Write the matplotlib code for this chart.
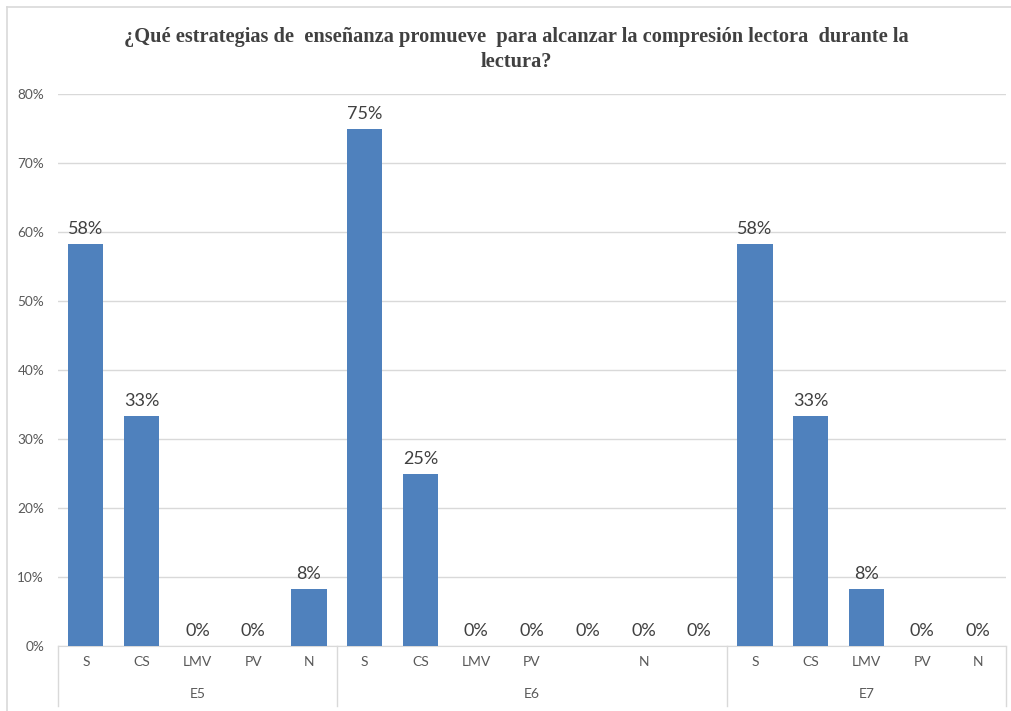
import matplotlib
matplotlib.use("Agg")
import matplotlib.pyplot as plt
from matplotlib.lines import Line2D
from matplotlib.transforms import blended_transform_factory

# data
groups = ["E5", "E6", "E7"]
cats_e5 = ["S", "CS", "LMV", "PV", "N"]
cats_e6 = ["S", "CS", "LMV", "PV", "", "N", ""]
cats_e7 = ["S", "CS", "LMV", "PV", "N"]
vals_e5 = [58.33, 33.33, 0, 0, 8.33]
vals_e6 = [75, 25, 0, 0, 0, 0, 0]
vals_e7 = [58.33, 33.33, 8.33, 0, 0]
yticks = [0, 10, 20, 30, 40, 50, 60, 70, 80]

W, H = 1012, 711


def main():
    plt.rcParams["font.family"] = ["Lato", "DejaVu Sans"]
    fig = plt.figure(figsize=(W / 100, H / 100), dpi=100, facecolor="white")

    # outer chart border
    fig.add_artist(Line2D([7 / W, 7 / W], [0, 1 - 7 / H], color="#d9d9d9", lw=1.2))
    fig.add_artist(Line2D([7 / W, 1], [1 - 7 / H, 1 - 7 / H], color="#d9d9d9", lw=1.2))

    left, right, bottom, top = 58, 1006, 646, 94
    ax = fig.add_axes([left / W, 1 - bottom / H, (right - left) / W, (bottom - top) / H])

    cats = cats_e5 + cats_e6 + cats_e7
    vals = vals_e5 + vals_e6 + vals_e7
    xs = list(range(len(cats)))

    ax.bar(xs, vals, width=0.63, color="#4F81BD", zorder=3)
    for x, v in zip(xs, vals):
        ax.annotate(f"{v:.0f}%", (x, v), xytext=(0, 5), textcoords="offset points",
                    ha="center", va="bottom", fontsize=13, color="#404040")

    ax.set_xlim(-0.5, len(cats) - 0.5)
    ax.set_ylim(0, 80)
    ax.set_yticks(yticks)
    ax.set_yticklabels([f"{t}%" for t in yticks])
    ax.tick_params(axis="y", length=0, pad=10, labelsize=9.8, labelcolor="#595959")
    ax.set_xticks([])
    ax.grid(True, axis="y", color="#d9d9d9", lw=1, zorder=0)
    for s in ["top", "right", "left"]:
        ax.spines[s].set_visible(False)
    ax.spines["bottom"].set_color("#d9d9d9")

    # category axis, two levels
    tr = blended_transform_factory(ax.transData, fig.transFigure)
    for x, c in zip(xs, cats):
        ax.text(x, 1 - 662 / H, c, transform=tr, ha="center", va="center",
                fontsize=10, color="#595959")
    sizes = [len(cats_e5), len(cats_e6), len(cats_e7)]
    start = -0.5
    bounds = [start]
    for g, n in zip(groups, sizes):
        mid = start + n / 2
        ax.text(mid, 1 - 694 / H, g, transform=tr, ha="center", va="center",
                fontsize=10, color="#595959")
        start += n
        bounds.append(start)
    for b in bounds:
        ax.add_artist(Line2D([b, b], [1 - 646 / H, 1 - 706 / H], transform=tr,
                             color="#d9d9d9", lw=1, clip_on=False))

    fig.text(516 / W, 1 - 37 / H,
             "¿Qué estrategias de  enseñanza promueve  para alcanzar la compresión lectora  durante la",
             ha="center", va="center", fontsize=14.7, fontweight="bold",
             family="Liberation Serif", color="#404040")
    fig.text(516 / W, 1 - 62 / H, "lectura?", ha="center", va="center", fontsize=14.7,
             fontweight="bold", family="Liberation Serif", color="#404040")

    fig.savefig("out.png", dpi=100, facecolor="white")


if __name__ == "__main__":
    main()
